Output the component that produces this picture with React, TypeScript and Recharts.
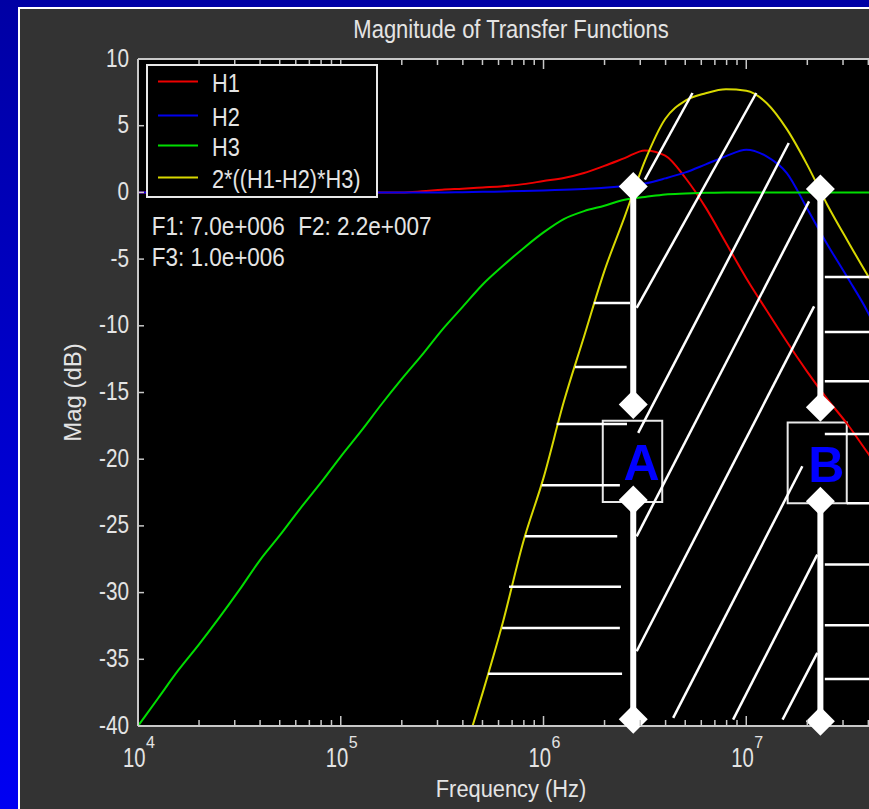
import {
  LineChart,
  Line,
  XAxis,
  YAxis,
  CartesianGrid,
  Legend,
  ReferenceLine,
  ReferenceDot,
  ReferenceArea,
} from 'recharts'

// frequency grid (Hz), 10 points per decade
const freqHz = [
  10000, 12589, 15849, 19953, 25119, 31623, 39811, 50119, 63096, 79433,
  100000, 125893, 158489, 199526, 251189, 316228, 398107, 501187, 630957, 794328,
  1000000, 1258925, 1584893, 1995262, 2511886, 3162278, 3981072, 5011872, 6309573, 7943282,
  10000000, 12589254, 15848932, 19952623, 25118864, 31622777, 39810717, 50000000,
]

// magnitudes in dB
const h1 = [
  0, 0, 0, 0, 0, 0, 0, 0, 0, 0,
  0, 0, 0, 0, 0.08, 0.2, 0.28, 0.37, 0.46, 0.62,
  0.85, 1.08, 1.45, 1.99, 2.57, 3.15, 2.76, 1.08, -1.14, -3.79,
  -6.43, -8.84, -11.2, -13.43, -15.5, -17.4, -19.55, -21.6,
]
const h2 = [
  0, 0, 0, 0, 0, 0, 0, 0, 0, 0,
  0, 0, 0, 0, 0, 0, 0.02, 0.04, 0.07, 0.1,
  0.14, 0.2, 0.26, 0.34, 0.48, 0.67, 1.05, 1.5, 2.1, 2.72,
  3.2, 2.7, 1.45, -1.2, -3.9, -6.4, -9.0, -12.3,
]
const h3 = [
  -40, -37.9, -35.8, -33.9, -31.9, -29.8, -27.6, -25.7, -23.7, -21.8,
  -19.8, -17.9, -15.9, -14.0, -12.2, -10.3, -8.6, -6.9, -5.5, -4.2,
  -3.0, -2.0, -1.4, -1.0, -0.55, -0.35, -0.15, -0.08, -0.03, 0,
  0, 0, 0, 0, 0, 0, 0, 0,
]
const hSum = [
  null, null, null, null, null, null, null, null, null, null,
  null, null, null, null, null, null, -42.5, -37.5, -32.2, -26.2,
  -21.4, -15.7, -10.8, -5.9, -1.83, 2.36, 5.5, 6.88, 7.43, 7.73,
  7.62, 6.7, 4.74, 2.08, -0.94, -3.64, -6.25, -8.7,
]

const magTicks = [-40, -35, -30, -25, -20, -15, -10, -5, 0, 5, 10]
const decadeTicks = [1e4, 1e5, 1e6, 1e7]
const minorTicks = [
  2e4, 3e4, 4e4, 5e4, 6e4, 7e4, 8e4, 9e4,
  2e5, 3e5, 4e5, 5e5, 6e5, 7e5, 8e5, 9e5,
  2e6, 3e6, 4e6, 5e6, 6e6, 7e6, 8e6, 9e6,
  2e7, 3e7, 4e7, 5e7,
]
const freqTicks = [...decadeTicks, ...minorTicks].sort((a, b) => a - b)

const series = [
  { key: 'h1', name: 'H1', color: '#ee0000' },
  { key: 'h2', name: 'H2', color: '#0000ee' },
  { key: 'h3', name: 'H3', color: '#00dd00' },
  { key: 'hSum', name: '2*((H1-H2)*H3)', color: '#d8d800' },
]

const rows = freqHz.map((f, i) => ({ f, h1: h1[i], h2: h2[i], h3: h3[i], hSum: hSum[i] }))

// corner markers A and B: [freq, dB of each diamond]
const markerA = { f: 2.77e6, mags: [0.45, -15.9, -23.05, -39.5] }
const markerB = { f: 2.32e7, mags: [0.25, -16.1, -23.15, -39.65] }

// hatch strokes, as [freq, dB] pairs
const leftHatch = [
  [-8.29, 1.77e6, 2.67e6],
  [-13.08, 1.43e6, 2.57e6],
  [-17.36, 1.16e6, 2.58e6],
  [-21.96, 9.8e5, 2.38e6],
  [-25.78, 8.11e5, 2.31e6],
  [-29.57, 6.76e5, 2.41e6],
  [-32.65, 6.25e5, 2.38e6],
  [-36.09, 5.33e5, 2.44e6],
]
const rightHatch = [
  [-6.34, 2.44e7], [-10.46, 2.44e7], [-14.16, 2.44e7], [-18.11, 2.44e7],
  [-23.31, 3.13e7], [-27.9, 2.44e7], [-32.45, 2.44e7], [-36.47, 2.44e7],
]
const slantHatch = [
  [[3.16e6, 0.95], [5.43e6, 7.45]],
  [[2.88e6, -8.66], [1.12e7, 7.45]],
  [[2.93e6, -18.03], [1.62e7, 3.7]],
  [[2.88e6, -25.78], [2.04e7, -0.67]],
  [[2.88e6, -34.4], [2.16e7, -8.54]],
  [[4.36e6, -39.39], [1.89e7, -20.53]],
  [[8.61e6, -39.52], [2.24e7, -27.15]],
  [[1.51e7, -39.52], [2.24e7, -34.52]],
]

const FMAX = 5e7
const AXIS = '#c8c8c8'
const TEXT = '#e4e4e4'
const FONT = '"Liberation Sans", Arial, sans-serif'

function NarrowText({ x, y, size, sx, anchor = 'start', rotate, fill = TEXT, weight, children }: any) {
  const t = `translate(${x},${y})${rotate ? ` rotate(${rotate})` : ''} scale(${sx},1)`
  return (
    <text transform={t} fontSize={size} textAnchor={anchor} fill={fill} fontFamily={FONT} fontWeight={weight}>
      {children}
    </text>
  )
}

const isDecade = (v: number) => decadeTicks.some((d) => Math.abs(d - v) < 1)

function FreqTick({ x, y, payload }: any) {
  const v = payload.value
  const major = isDecade(v)
  return (
    <g>
      <line x1={x} x2={x} y1={y} y2={y - (major ? 10 : 6)} stroke={AXIS} strokeWidth={1.5} />
      {major && (
        <>
          <NarrowText x={x + 7.5} y={y + 40.7} size={27} sx={0.75} anchor="end">10</NarrowText>
          <NarrowText x={x + 8} y={y + 22} size={16} sx={1}>{Math.round(Math.log10(v))}</NarrowText>
        </>
      )}
    </g>
  )
}

function TopTick({ x, y, payload }: any) {
  const major = isDecade(payload.value)
  return <line x1={x} x2={x} y1={y} y2={y + (major ? 10 : 6)} stroke={AXIS} strokeWidth={1.5} />
}

function MagTick({ x, y, payload }: any) {
  return (
    <g>
      <line x1={x} x2={x + 6} y1={y} y2={y} stroke={AXIS} strokeWidth={1.5} />
      <NarrowText x={x - 9} y={y + 7.5} size={25} sx={0.83} anchor="end">{payload.value}</NarrowText>
    </g>
  )
}

function FreqLabel({ viewBox }: any) {
  return (
    <NarrowText x={viewBox.x + viewBox.width / 2 - 2} y={viewBox.y + 71} size={24} sx={0.91} anchor="middle">
      Frequency (Hz)
    </NarrowText>
  )
}

function MagLabel({ viewBox }: any) {
  return (
    <NarrowText x={viewBox.x + 61} y={viewBox.y + viewBox.height / 2} size={24} sx={1} anchor="middle" rotate={-90}>
      Mag (dB)
    </NarrowText>
  )
}

function BoxLetter({ viewBox, letter }: any) {
  return (
    <text
      x={viewBox.x + viewBox.width / 2 + 9}
      y={viewBox.y + viewBox.height / 2 + 19}
      textAnchor="middle"
      fontSize={50}
      fontWeight={700}
      fontFamily={FONT}
      fill="#0000ff"
    >
      {letter}
    </text>
  )
}

function Diamond({ cx, cy }: any) {
  const s = 14.5
  return <polygon points={`${cx},${cy - s} ${cx + s},${cy} ${cx},${cy + s} ${cx - s},${cy}`} fill="#fff" />
}

function LegendBox() {
  const rowY = [17.4, 51.4, 81.4, 113.4]
  return (
    <svg width={232} height={134} style={{ display: 'block' }}>
      <rect x={1} y={1} width={230} height={132} fill="#000" stroke="#e8e8e8" strokeWidth={2} />
      {series.map((s, i) => (
        <g key={s.key}>
          <line x1={12} x2={52} y1={rowY[i]} y2={rowY[i]} stroke={s.color} strokeWidth={2} />
          <NarrowText x={66} y={rowY[i] + 11} size={25} sx={0.87}>{s.name}</NarrowText>
        </g>
      ))}
    </svg>
  )
}

function markerBars(m: { f: number; mags: number[] }) {
  return [
    [m.mags[0], m.mags[1]],
    [m.mags[2], m.mags[3]],
  ].map(([a, b], i) => (
    <ReferenceLine
      key={`bar-${m.f}-${i}`}
      segment={[{ x: m.f, y: a }, { x: m.f, y: b }]}
      stroke="#fff"
      strokeWidth={6}
    />
  ))
}

function markerDots(m: { f: number; mags: number[] }) {
  return m.mags.map((y) => <ReferenceDot key={`dot-${m.f}-${y}`} x={m.f} y={y} r={14} shape={Diamond} />)
}

export default function App() {
  const hatch = { stroke: '#fff', strokeWidth: 2.5 }
  return (
    <div
      style={{
        position: 'fixed',
        left: 0,
        top: 0,
        width: 869,
        height: 809,
        overflow: 'hidden',
        background: 'linear-gradient(180deg, #0000a4 0%, #0000f2 100%)',
      }}
    >
      <div
        style={{
          position: 'absolute',
          left: 18,
          top: 7,
          width: 1000,
          height: 900,
          background: '#333333',
          borderLeft: '2px solid #ffffff',
          borderTop: '2px solid #ffffff',
        }}
      />
      <div style={{ position: 'absolute', left: 0, top: 0 }}>
        <LineChart width={940} height={809} data={rows} margin={{ top: 58, right: 52, bottom: 23, left: 20 }}>
          <CartesianGrid horizontal={false} vertical={false} fill="#000" stroke="none" />
          <XAxis
            dataKey="f"
            type="number"
            scale="log"
            domain={[1e4, FMAX]}
            allowDataOverflow
            ticks={freqTicks}
            interval={0}
            height={60}
            tickSize={0}
            tickMargin={0}
            tickLine={false}
            tick={<FreqTick />}
            axisLine={{ stroke: AXIS, strokeWidth: 2 }}
            label={<FreqLabel />}
          />
          <XAxis
            xAxisId="top"
            orientation="top"
            dataKey="f"
            type="number"
            scale="log"
            domain={[1e4, FMAX]}
            allowDataOverflow
            ticks={freqTicks}
            interval={0}
            height={1}
            tickSize={0}
            tickMargin={0}
            tickLine={false}
            tick={<TopTick />}
            axisLine={{ stroke: AXIS, strokeWidth: 2 }}
          />
          <YAxis
            type="number"
            domain={[-40, 10]}
            allowDataOverflow
            ticks={magTicks}
            interval={0}
            width={118}
            tickSize={0}
            tickMargin={0}
            tickLine={false}
            tick={<MagTick />}
            axisLine={{ stroke: AXIS, strokeWidth: 2 }}
            label={<MagLabel />}
          />
          <Legend
            layout="vertical"
            align="center"
            verticalAlign="middle"
            wrapperStyle={{ left: 146, top: 64, width: 232, height: 134 }}
            content={<LegendBox />}
          />
          {series.map((s) => (
            <Line
              key={s.key}
              dataKey={s.key}
              name={s.name}
              type="monotone"
              stroke={s.color}
              strokeWidth={2}
              dot={false}
              activeDot={false}
              isAnimationActive={false}
            />
          ))}

          {leftHatch.map(([y, f1, f2]) => (
            <ReferenceLine key={`lh-${y}`} segment={[{ x: f1, y }, { x: f2, y }]} {...hatch} />
          ))}
          {rightHatch.map(([y, f1]) => (
            <ReferenceLine key={`rh-${y}`} segment={[{ x: f1, y }, { x: FMAX, y }]} {...hatch} />
          ))}
          {slantHatch.map(([p, q], i) => (
            <ReferenceLine key={`sh-${i}`} segment={[{ x: p[0], y: p[1] }, { x: q[0], y: q[1] }]} {...hatch} />
          ))}

          <ReferenceArea
            x1={1.96e6}
            x2={3.85e6}
            y1={-23.2}
            y2={-17.11}
            fill="none"
            stroke="#e8e8e8"
            strokeWidth={2}
            label={<BoxLetter letter="A" />}
          />
          <ReferenceArea
            x1={1.6e7}
            x2={3.13e7}
            y1={-23.31}
            y2={-17.24}
            fill="none"
            stroke="#e8e8e8"
            strokeWidth={2}
            label={<BoxLetter letter="B" />}
          />

          {markerBars(markerA)}
          {markerBars(markerB)}
          {markerDots(markerA)}
          {markerDots(markerB)}
        </LineChart>
      </div>
      <svg
        width={869}
        height={809}
        style={{ position: 'absolute', left: 0, top: 0, pointerEvents: 'none' }}
      >
        <NarrowText x={511} y={38} size={25} sx={0.88} anchor="middle">Magnitude of Transfer Functions</NarrowText>
        <NarrowText x={151.7} y={234.5} size={25} sx={0.9}>F1: 7.0e+006</NarrowText>
        <NarrowText x={298.3} y={234.5} size={25} sx={0.9}>F2: 2.2e+007</NarrowText>
        <NarrowText x={151.7} y={265.5} size={25} sx={0.9}>F3: 1.0e+006</NarrowText>
      </svg>
    </div>
  )
}
